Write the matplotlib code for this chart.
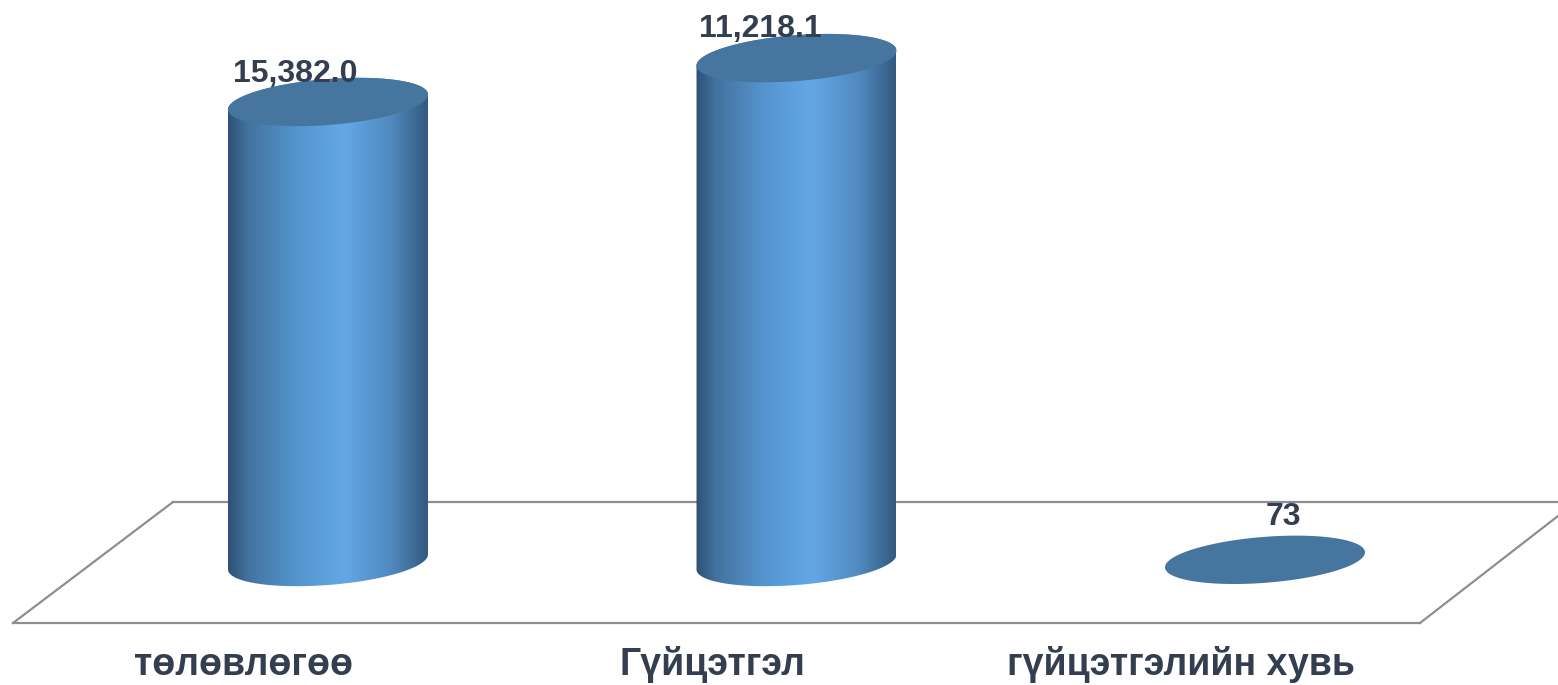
import numpy as np
import matplotlib
matplotlib.use("Agg")
import matplotlib.pyplot as plt
from matplotlib.patches import Polygon
from matplotlib.colors import LinearSegmentedColormap

# ---- data ----
categories = ["төлөвлөгөө", "Гүйцэтгэл", "гүйцэтгэлийн хувь"]
value_labels = ["15,382.0", "11,218.1", "73"]
bar_heights = [15382.0, 16850.0, 73.0]   # heights as drawn in the picture

# ---- figure / scales ----
W, H = 1558, 685
fig = plt.figure(figsize=(W / 100, H / 100), dpi=100)
ax = fig.add_axes([0, 0, 1, 1])
X0, X1 = -0.7001, 2.6254
Y0, Y1 = -4113.0, 18793.0
ax.set_xlim(X0, X1)
ax.set_ylim(Y0, Y1)
ax.axis("off")

kx = (X1 - X0) / W   # data units per pixel (x)
ky = (Y1 - Y0) / H   # data units per pixel (y)

def px(xp, yp):
    """pixel (from top-left) -> data coords, for decoration only"""
    return X0 + xp * kx, Y1 - yp * ky

# ---- floor ----
floor_col = "#8e8e8e"
fl = [px(13, 623), px(1420, 623), px(1558, 516)]
bl = [px(173, 502), px(1558, 502)]
ax.plot([fl[0][0], fl[1][0]], [fl[0][1], fl[1][1]], color=floor_col, lw=1.6, zorder=1)
ax.plot([fl[1][0], fl[2][0]], [fl[1][1], fl[2][1]], color=floor_col, lw=1.6, zorder=1)
ax.plot([fl[0][0], bl[0][0]], [fl[0][1], bl[0][1]], color=floor_col, lw=1.6, zorder=1)
ax.plot([bl[0][0], bl[1][0]], [bl[0][1], bl[1][1]], color=floor_col, lw=1.6, zorder=1)

# ---- cylinders ----
A_PX, B_PX, S = 100.0, 23.0, 0.075   # semi-width, semi-height, tilt (pixels)
cmap = LinearSegmentedColormap.from_list(
    "cyl",
    [(0.0, "#2f5275"), (0.10, "#43739f"), (0.35, "#5596d0"),
     (0.58, "#63a8e6"), (0.82, "#5089bf"), (1.0, "#335a80")])
cap_col = "#46769f"

def ell_pts(cx, cy, t):
    x = cx + A_PX * np.cos(t) * kx
    y = cy + (B_PX * np.sin(t) + S * A_PX * np.cos(t)) * ky
    return x, y

grad = np.linspace(0, 1, 400).reshape(1, -1)
for i, h in enumerate(bar_heights):
    cx, base = i, 0.0
    top = base + h
    if h > 500:
        tb = np.linspace(np.pi, 2 * np.pi, 120)
        tt = np.linspace(0, np.pi, 120)
        bx, by = ell_pts(cx, base, tb)
        tx, ty = ell_pts(cx, top, tt)
        poly = np.column_stack([np.concatenate([bx, tx]), np.concatenate([by, ty])])
        body = Polygon(poly, closed=True, facecolor="none", edgecolor="none", zorder=3)
        ax.add_patch(body)
        im = ax.imshow(grad, cmap=cmap, aspect="auto",
                       extent=[cx - A_PX * kx, cx + A_PX * kx,
                               base - 40 * ky, top + 40 * ky],
                       zorder=3, interpolation="bilinear")
        im.set_clip_path(body)
    t = np.linspace(0, 2 * np.pi, 240)
    ex, ey = ell_pts(cx, top, t)
    ax.add_patch(Polygon(np.column_stack([ex, ey]), closed=True,
                         facecolor=cap_col, edgecolor="none", zorder=4))

ax.set_xlim(X0, X1)
ax.set_ylim(Y0, Y1)

# ---- labels ----
txt_col = "#333f50"
font = ["Liberation Sans", "DejaVu Sans"]
lab_off = [(-33, 20), (-36, 21), (18, 35)]   # pixel offsets of value labels
for i, (h, lab) in enumerate(zip(bar_heights, value_labels)):
    dx, dy = lab_off[i]
    ax.text(i + dx * kx, h + dy * ky, lab, ha="center", va="baseline",
            fontsize=23, fontweight="bold", color=txt_col, family=font, zorder=6)

cat_y = px(0, 675)[1]
for i, c in enumerate(categories):
    ax.text(i - 84 * kx, cat_y, c, ha="center", va="baseline",
            fontsize=27, fontweight="bold", color=txt_col, family=font, zorder=6)

fig.savefig("out.png", dpi=100)
